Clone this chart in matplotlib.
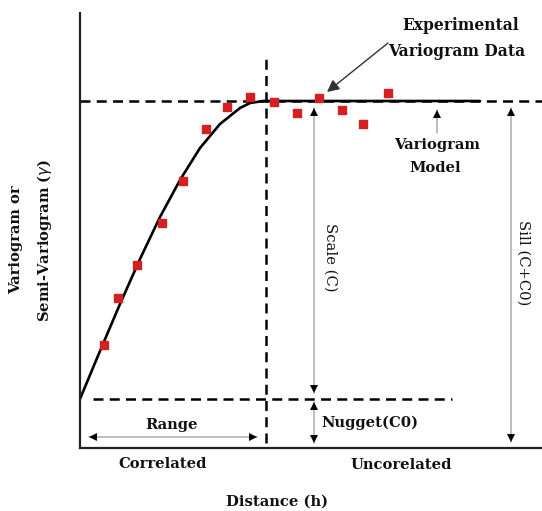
import matplotlib
matplotlib.use('Agg')
import matplotlib.pyplot as plt

# experimental variogram points (distance, semivariance)
exp_h = [24, 38, 57, 82, 103, 126, 147, 170, 194, 217, 239, 262, 283, 308]
exp_g = [103, 150, 183, 225, 267, 319, 341, 351, 346, 335, 350, 338, 324, 355]

# fitted model curve
model_h = [0, 20, 40, 60, 80, 100, 120, 140, 160, 170, 183, 400]
model_g = [49, 97, 144, 189, 231, 268, 300, 324, 340, 345, 347, 347]

nugget = 49
sill = 347
range_h = 186

FONT = dict(family='DejaVu Serif', fontweight='bold', color='#111111')

fig = plt.figure(figsize=(5.42, 5.11), dpi=100)
ax = fig.add_axes([80 / 542, 63 / 511, 462 / 542, 435 / 511])
ax.set_xlim(0, 462)
ax.set_ylim(0, 435)
ax.set_xticks([])
ax.set_yticks([])
for s in ['top', 'right']:
    ax.spines[s].set_visible(False)
for s in ['left', 'bottom']:
    ax.spines[s].set_linewidth(1.6)
    ax.spines[s].set_color('#222222')

dash = dict(color='black', lw=1.8, dashes=(4, 2.5))
ax.plot([0, 462], [sill, sill], **dash)
ax.plot([13, 372], [nugget, nugget], **dash)
ax.plot([range_h, range_h], [5, 395], **dash)

ax.plot(model_h, model_g, color='black', lw=1.9, solid_capstyle='round',
        solid_joinstyle='round')
ax.plot(exp_h, exp_g, 's', color='#d42020', markersize=5.5, zorder=5)


def thin_arrow(p0, p1, both=False):
    ax.annotate('', xy=p1, xytext=p0,
                arrowprops=dict(arrowstyle='-', color='#9a9a9a', lw=0.9,
                                shrinkA=0, shrinkB=0))
    heads = [p1, p0] if both else [p1]
    other = [p0, p1] if both else [p0]
    for h, o in zip(heads, other):
        ax.annotate('', xy=h, xytext=(h[0] + (o[0] - h[0]) * 0.001,
                                      h[1] + (o[1] - h[1]) * 0.001),
                    arrowprops=dict(arrowstyle='-|>', color='black', lw=0.1,
                                    mutation_scale=14, shrinkA=0, shrinkB=0))


thin_arrow((234, 55), (234, 340), both=True)
thin_arrow((234, 46), (234, 5), both=True)
thin_arrow((431, 6), (431, 340), both=True)
thin_arrow((9, 11), (177, 11), both=True)
thin_arrow((357, 315), (357, 338))

ax.annotate('', xy=(247, 356), xytext=(308, 405),
            arrowprops=dict(arrowstyle='-|>', color='#333333', lw=1.0,
                            mutation_scale=18, shrinkA=0, shrinkB=0))

fs = 10.6
ax.text(381, 422, 'Experimental', ha='center', va='center', fontsize=11.2, **FONT)
ax.text(377, 396, 'Variogram Data', ha='center', va='center', fontsize=11.2, **FONT)
ax.text(357, 303, 'Variogram', ha='center', va='center', fontsize=fs, **FONT)
ax.text(355, 280, 'Model', ha='center', va='center', fontsize=fs, **FONT)
ax.text(250, 191, 'Scale (C)', ha='center', va='center', rotation=-90, fontsize=fs,
        family='DejaVu Serif', color='#111111')
ax.text(443, 185, 'Sill (C+C0)', ha='center', va='center', rotation=-90, fontsize=fs,
        family='DejaVu Serif', color='#111111')
ax.text(290, 25, 'Nugget(C0)', ha='center', va='center', fontsize=fs, **FONT)
ax.text(92, 23, 'Range', ha='center', va='center', fontsize=fs, **FONT)
ax.text(83, -16, 'Correlated', ha='center', va='center', fontsize=fs, **FONT)
ax.text(321, -17, 'Uncorelated', ha='center', va='center', fontsize=fs, **FONT)
ax.text(197, -54, 'Distance (h)', ha='center', va='center', fontsize=fs, **FONT)
ax.text(-48, 208, 'Variogram or\nSemi-Variogram ($\\gamma$)', ha='center', va='center',
        rotation=90, fontsize=fs, linespacing=1.85, **FONT)

fig.savefig('out.png', dpi=100)
